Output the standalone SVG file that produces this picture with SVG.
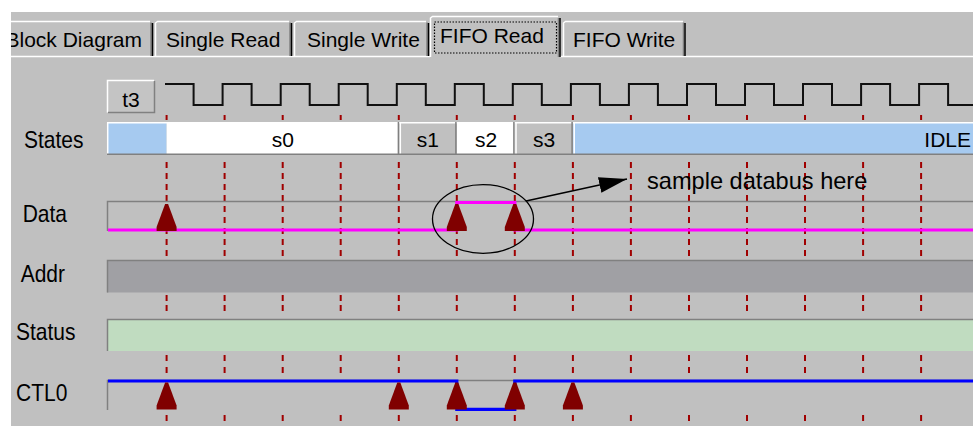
<svg xmlns="http://www.w3.org/2000/svg" width="973" height="426" viewBox="0 0 973 426">
<style>
text{font-family:"Liberation Sans",Arial,sans-serif;fill:#000}
.t{font-size:21px}
.lbl{font-size:24px}
.ann{font-size:23.6px}
.hl{stroke:#fff;stroke-width:1.5;fill:none}
.sh{stroke:#808080;stroke-width:1.5;fill:none}
.cell{stroke:none}
</style>
<defs>
<path id="col" d="M0,115v5M0,162v6M0,173v6M0,184v6M0,195v6M0,206v6M0,217v6M0,228v6M0,239v6M0,250v6M0,295v6M0,305v6M0,355v6M0,367v6M0,415v6" stroke="#a00000" stroke-width="2" fill="none"/>
<path id="tri" d="M-10,0V-4L-1.5,-27H1.5L10,-4V0Z" fill="#800000"/>
<marker id="ah" markerUnits="userSpaceOnUse" markerWidth="28" markerHeight="16" refX="28" refY="8" orient="auto" viewBox="0 0 28 16">
<path d="M0,0L28,8L0,16Z" fill="#000"/>
</marker>
</defs>

<rect width="973" height="426" fill="#c0c0c0"/>

<g id="tabs">
<path class="hl" d="M155.5,56V23L157.5,21.5H289"/>
<path class="hl" d="M294.5,56V23L296.5,21.5H426"/>
<path class="hl" d="M563.5,56V23L565.5,21.5H683"/>
<path class="hl" d="M0,21.5H150"/>
<path class="hl" d="M10,56.5H430M560,56.5H973"/>
<path class="hl" d="M430.5,57V18L432.5,16.5H558"/>
<g stroke-width="1.5" fill="none">
<path stroke="#808080" d="M151,22.5V56M290,22.5V56M427,22.5V56M558.5,18V57M683.5,22.5V56"/>
<path stroke="#000" d="M152.5,23V56M291.5,23V56M428.5,23V56M560,18V57M685,23V56"/>
</g>
<rect x="434.5" y="22" width="122" height="31" fill="none" stroke="#000" stroke-width="1.2" stroke-dasharray="1.5 1.5"/>
<text class="t" x="5.5" y="46.7">Block Diagram</text>
<text class="t" x="166" y="46.7">Single Read</text>
<text class="t" x="307" y="46.7">Single Write</text>
<text class="t" x="440" y="43.3">FIFO Read</text>
<text class="t" x="573" y="46.7">FIFO Write</text>
</g>

<rect x="0" y="0" width="973" height="12" fill="#fff"/>
<rect x="0" y="0" width="11" height="426" fill="#fff"/>

<g id="labels">
<text class="lbl" transform="translate(24,148.3) scale(0.875,1)">States</text>
<text class="lbl" transform="translate(22.7,222.3) scale(0.875,1)">Data</text>
<text class="lbl" transform="translate(20.7,281.7) scale(0.875,1)">Addr</text>
<text class="lbl" transform="translate(16,340) scale(0.875,1)">Status</text>
<text class="lbl" transform="translate(16,400.7) scale(0.875,1)">CTL0</text>
</g>

<g id="t3-button">
<rect x="107" y="80" width="48" height="33" fill="#c4c4c4"/>
<path class="hl" d="M107.5,112.5V80.5H154"/>
<path class="sh" d="M108,112.5H154.5V81"/>
<text class="t" x="131" y="106.7" text-anchor="middle">t3</text>
</g>

<g id="clock">
<path d="M165,84H193.6V105H222.6V84H251.6V105H280.7V84H309.7V105H338.7V84H367.7V105H396.8V84H425.8V105H454.8V84H483.8V105H512.8V84H541.8V105H570.9V84H599.9V105H628.9V84H657.9V105H687V84H716V105H745V84H774V105H803V84H832V105H861.1V84H890.1V105H919.1V84H948.1V105H973" fill="none" stroke="#101010" stroke-width="2"/>
</g>

<g id="grid">
<use href="#col" x="166.6"/>
<use href="#col" x="224.6"/>
<use href="#col" x="282.7"/>
<use href="#col" x="340.7"/>
<use href="#col" x="398.8"/>
<use href="#col" x="456.8"/>
<use href="#col" x="514.8"/>
<use href="#col" x="572.9"/>
<use href="#col" x="630.9"/>
<use href="#col" x="689"/>
<use href="#col" x="747"/>
<use href="#col" x="805"/>
<use href="#col" x="863.1"/>
<use href="#col" x="921.1"/>
</g>

<g id="states">
<rect class="cell" x="107" y="122" width="59.6" height="33" fill="#a6caf0"/>
<rect class="cell" x="166.6" y="122" width="232.4" height="33" fill="#fff"/>
<rect class="cell" x="399" y="122" width="57.8" height="33" fill="#c0c0c0"/>
<rect class="cell" x="456.8" y="122" width="58" height="33" fill="#fff"/>
<rect class="cell" x="514.8" y="122" width="58.1" height="33" fill="#c0c0c0"/>
<rect class="cell" x="572.9" y="122" width="400.1" height="33" fill="#a6caf0"/>
<path class="hl" d="M107,122.7H973M107.7,122V155M400.3,122V154M516,122V154M574.2,122V154"/>
<path class="sh" d="M107,154.3H973M398.4,122V154M455.9,122V154M513.9,122V154M572.1,122V154"/>
<text class="t" x="282.8" y="146.7" text-anchor="middle">s0</text>
<text class="t" x="427.9" y="146.7" text-anchor="middle">s1</text>
<text class="t" x="486" y="146.7" text-anchor="middle">s2</text>
<text class="t" x="544" y="146.7" text-anchor="middle">s3</text>
<text class="t" x="971" y="146.7" text-anchor="end">IDLE</text>
</g>

<g id="row-data">
<path class="sh" d="M107.5,231V201.5H973"/>
<path d="M108,230H456.8V202.5H514.8V230H973" fill="none" stroke="#ff00ff" stroke-width="3.2"/>
<use href="#tri" x="166.6" y="231"/>
<use href="#tri" x="456.8" y="231"/>
<use href="#tri" x="514.8" y="231"/>
</g>

<g id="row-addr">
<rect x="107" y="260" width="866" height="32.5" fill="#a0a0a4"/>
<path class="sh" d="M107.5,292.5V260.5H973"/>
</g>

<g id="row-status">
<rect x="107" y="319" width="866" height="32" fill="#c0dcc0"/>
<path class="sh" d="M107.5,351V319.5H973"/>
</g>

<g id="row-ctl0">
<path class="sh" d="M107.5,410V380.5H973"/>
<path d="M108,381H456.8V409.3H514.8V381H973" fill="none" stroke="#0000ff" stroke-width="3.2"/>
<use href="#tri" x="166.6" y="409.5"/>
<use href="#tri" x="398.8" y="409.5"/>
<use href="#tri" x="456.8" y="409.5"/>
<use href="#tri" x="514.8" y="409.5"/>
<use href="#tri" x="572.9" y="409.5"/>
</g>

<g id="annotation">
<ellipse cx="483" cy="219" rx="50.5" ry="34.3" fill="none" stroke="#000" stroke-width="1.3"/>
<text class="ann" x="647" y="188.5">sample databus here</text>
</g>

<g id="connectors">
<path d="M526,201L627,179" fill="none" stroke="#000" stroke-width="1.5" marker-end="url(#ah)"/>
</g>
</svg>
